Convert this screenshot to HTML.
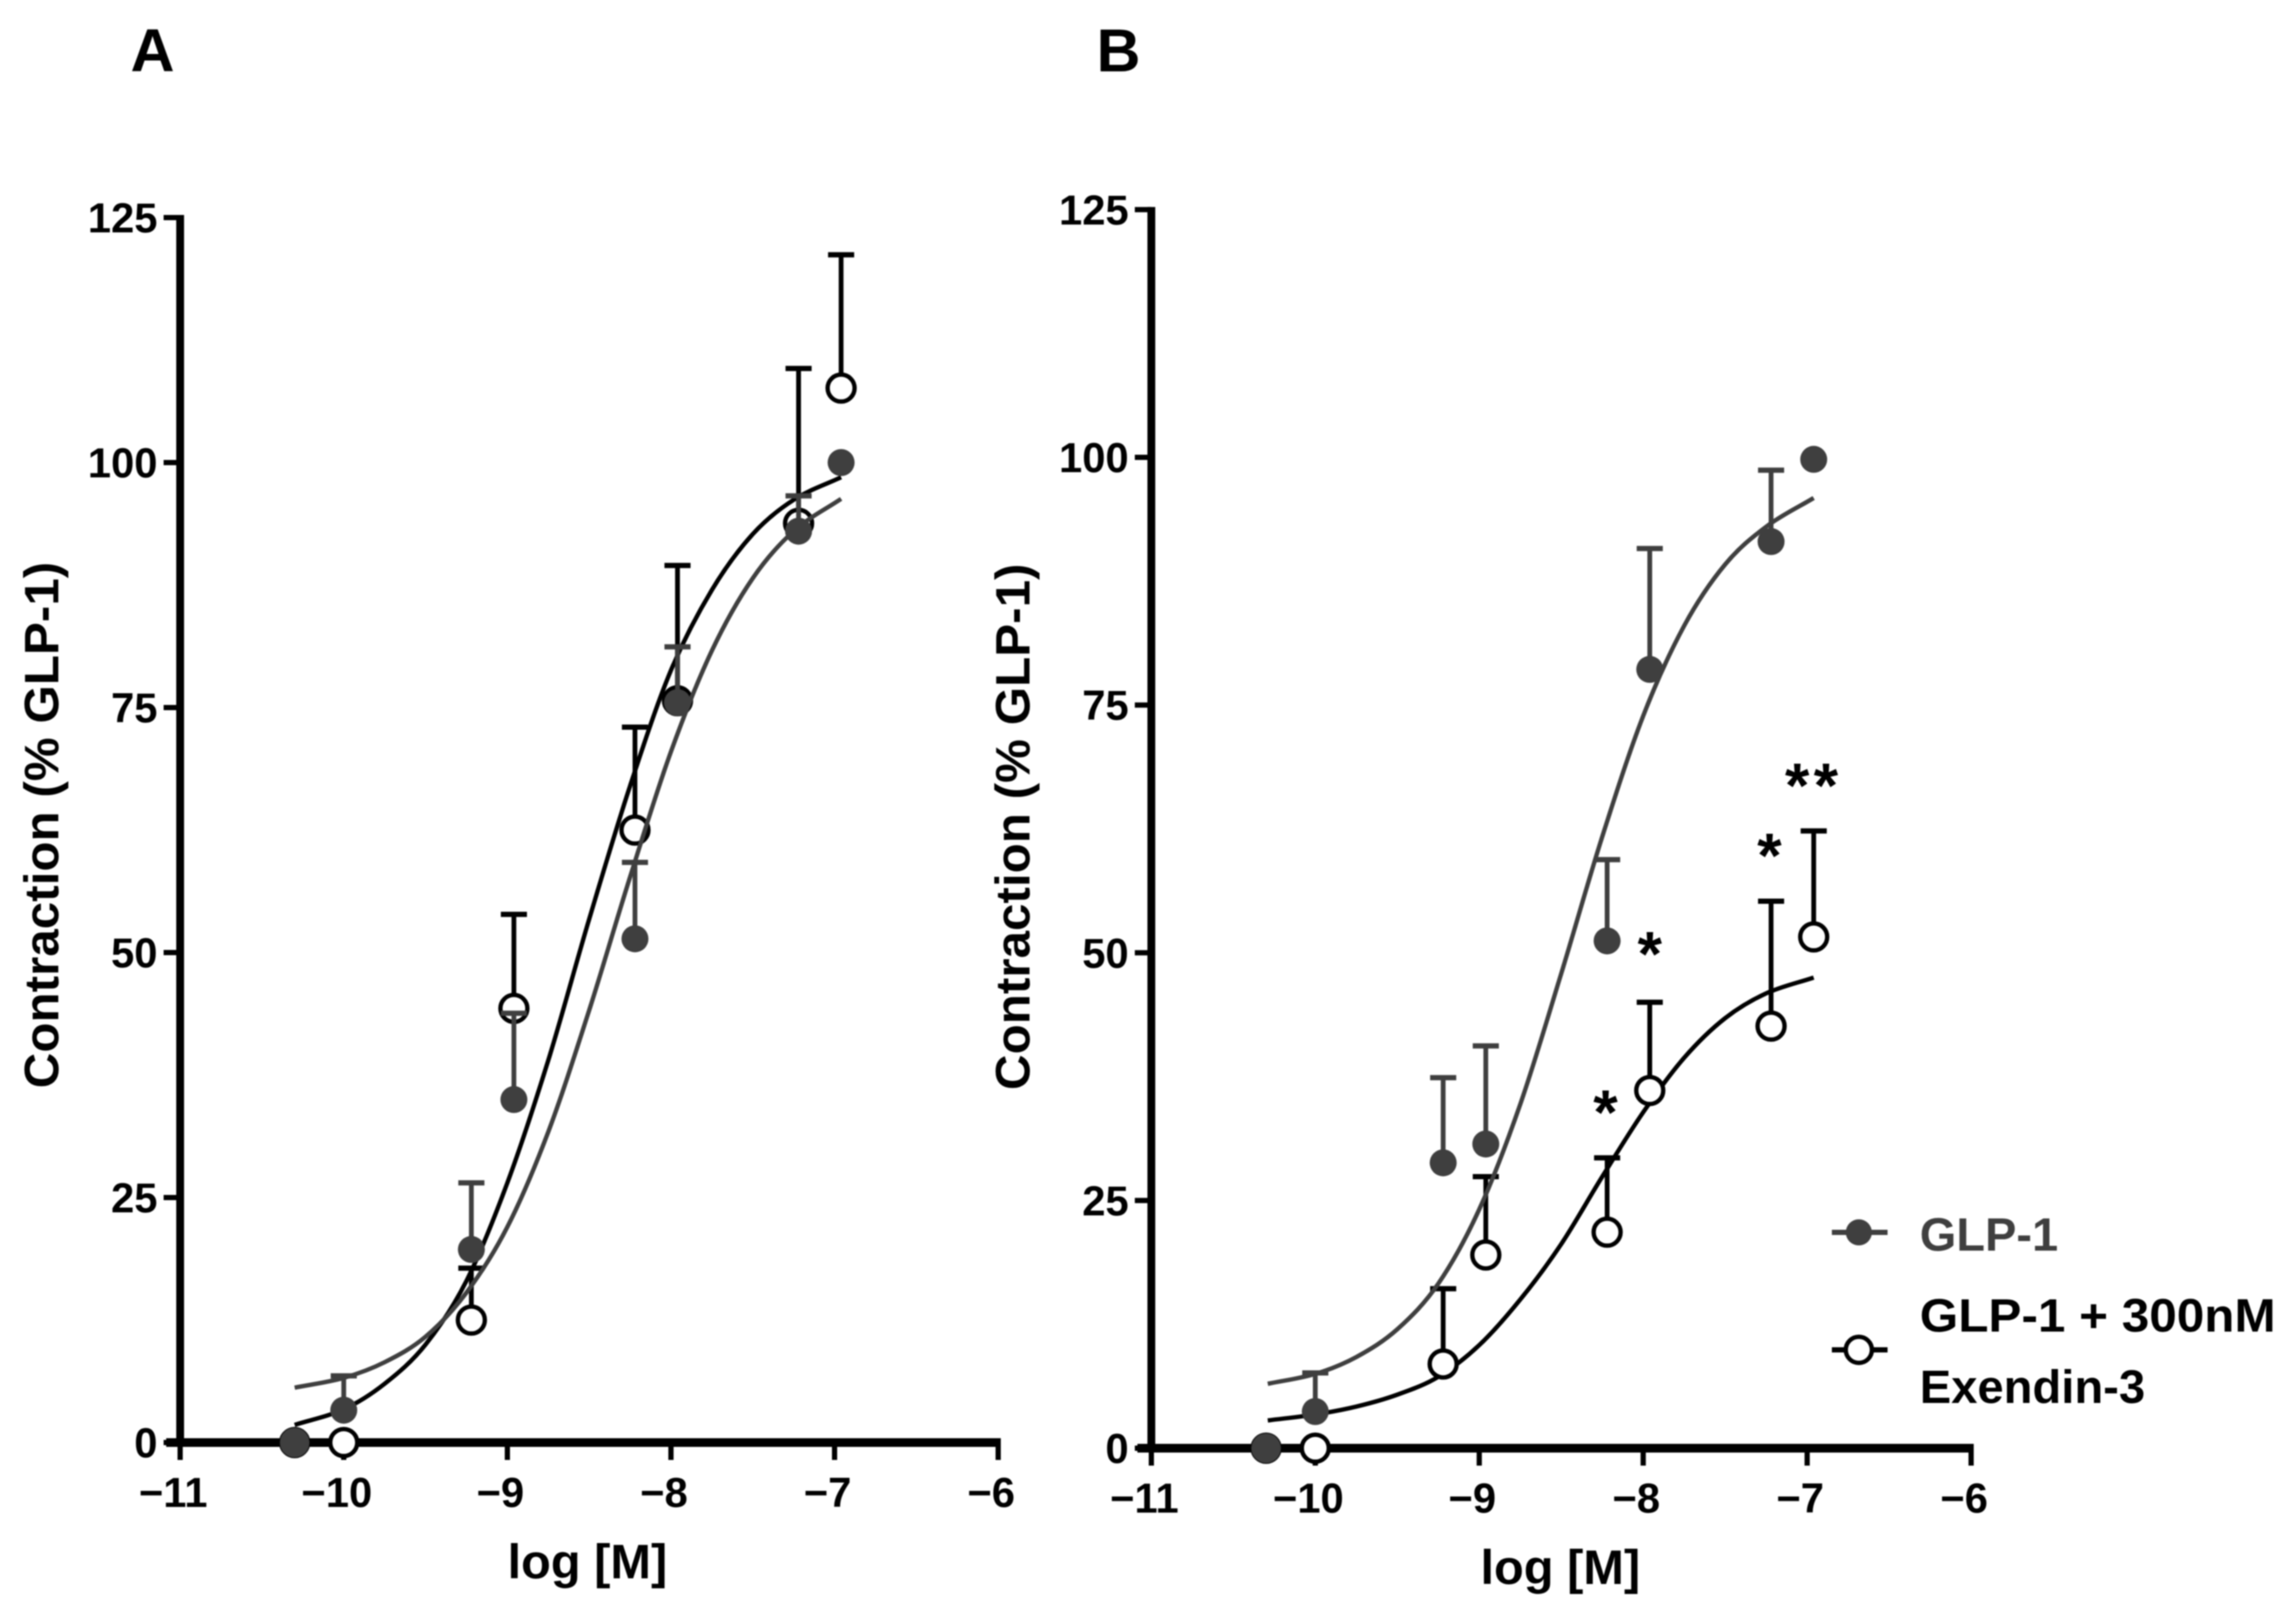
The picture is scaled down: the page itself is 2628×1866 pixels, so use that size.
<!DOCTYPE html>
<html lang="en">
<head>
<meta charset="utf-8">
<title>GLP-1 contraction dose-response curves</title>
<style>
html,body{margin:0;padding:0;background:#fff;}
svg{display:block;font-family:"Liberation Sans",sans-serif;filter:blur(0.7px);}
text{font-weight:bold;}
</style>
</head>
<body>
<svg id="figure" xmlns="http://www.w3.org/2000/svg" width="2628" height="1866" viewBox="0 0 2628 1866"></svg>
<script>
// ---------- shared axis data ----------
const xTickValues = [-11, -10, -9, -8, -7, -6];
const yTickValues = [0, 25, 50, 75, 100, 125];
const concentrations = [-10.3, -10, -9.22, -8.96, -8.22, -7.96, -7.22, -6.96];

// ---------- panel A data ----------
const glpMeanA = [0, 3.3, 19.7, 35, 51.4, 75.5, 93, 100];
const glpUpperA = [null, 6.8, 26.5, 43.8, 59.2, 81.2, 96.6, null];
const exMeanA = [0, 0, 12.5, 44.3, 62.5, 75.7, 93.8, 107.6];
const exUpperA = [null, null, 17.8, 53.9, 73, 89.5, 109.6, 121.2];
const curveXA = [-10.3, -10, -9.75, -9.5, -9.25, -9, -8.75, -8.5, -8.25, -8, -7.75, -7.5, -7.25, -6.96];
const glpCurveA = [5.6, 6.6, 8.2, 10.8, 15.3, 22, 31.7, 44.1, 57.7, 70.5, 80.8, 88.2, 93, 96.3];
const exCurveA = [1.8, 3.4, 6, 10, 16.5, 26.5, 39, 53.4, 67, 78.8, 87, 92.7, 96.2, 98.5];

// ---------- panel B data ----------
const glpMeanB = [0, 3.7, 28.8, 30.7, 51.2, 78.6, 91.5, 99.8];
const glpUpperB = [null, 7.6, 37.4, 40.6, 59.4, 90.8, 98.7, null];
const exMeanB = [0, 0, 8.5, 19.5, 21.8, 36.1, 42.6, 51.6];
const exUpperB = [null, null, 16.1, 27.4, 29.3, 45, 55.2, 62.3];
const curveXB = [-10.29, -10, -9.75, -9.5, -9.25, -9, -8.75, -8.5, -8.25, -8, -7.75, -7.5, -7.25, -6.96];
const glpCurveB = [6.5, 7.5, 9.2, 12, 16.6, 24.1, 34.7, 47.9, 61.7, 73.9, 83, 89.2, 93, 95.9];
const exCurveB = [2.8, 3.4, 4.2, 5.4, 7.2, 10.4, 15, 20.6, 27.4, 33.9, 39.4, 43.4, 45.9, 47.5];

// ---------- significance marks in panel B ----------
const starLabels = ['*', '*', '*', '**'];
const starX = [-8.23, -7.96, -7.23, -6.96];
const starY = [34.6, 50.6, 60.5, 67.6];

const GRAY = '#3f3f3f';
const BLACK = '#000000';
const NS = 'http://www.w3.org/2000/svg';
const svg = document.getElementById('figure');

function mk(parent, tag, attrs, txt) {
  const e = document.createElementNS(NS, tag);
  for (const k in attrs) e.setAttribute(k, attrs[k]);
  if (txt !== undefined) e.textContent = txt;
  parent.appendChild(e);
  return e;
}

// Cubic Hermite through the read points, tangents from neighbouring chords
function smoothPath(px, py) {
  const n = px.length;
  const slope = [];
  for (let i = 0; i < n; i++) {
    const a = Math.max(i - 1, 0), b = Math.min(i + 1, n - 1);
    slope.push((py[b] - py[a]) / (px[b] - px[a]));
  }
  let d = 'M' + px[0].toFixed(1) + ' ' + py[0].toFixed(1);
  for (let i = 0; i < n - 1; i++) {
    const h = (px[i + 1] - px[i]) / 3;
    d += 'C' + (px[i] + h).toFixed(1) + ' ' + (py[i] + slope[i] * h).toFixed(1) + ' ' +
         (px[i + 1] - h).toFixed(1) + ' ' + (py[i + 1] - slope[i + 1] * h).toFixed(1) + ' ' +
         px[i + 1].toFixed(1) + ' ' + py[i + 1].toFixed(1);
  }
  return d;
}

function drawSeries(g, sx, sy, key, color, means, uppers) {
  concentrations.forEach(function (c, i) {
    const x = sx(c);
    if (uppers[i] !== null) {
      const stem = mk(g, 'line', {x1: x, x2: x, y1: sy(means[i]), y2: sy(uppers[i]), stroke: color, 'stroke-width': 5.5});
      
      
      const cap = mk(g, 'line', {x1: x - 15, x2: x + 15, y1: sy(uppers[i]), y2: sy(uppers[i]), stroke: color, 'stroke-width': 6});
      
      
    }
  });
}

function drawMarkers(g, sx, sy, key, color, hollow, means) {
  concentrations.forEach(function (c, i) {
    const large = !hollow && i === 0;
    const dot = mk(g, 'circle', {
      cx: sx(c), cy: sy(means[i]),
      r: hollow ? 15.5 : (large ? 17 : 15.5),
      fill: hollow ? '#fff' : color,
      stroke: hollow ? color : 'none',
      'stroke-width': hollow ? 5 : 0
    });
    
    
  });
}

function drawPanel(cfg) {
  const sx = function (v) { return cfg.x0 + (v + 11) * cfg.xUnit; };
  const sy = function (v) { return cfg.y0 - v * cfg.yUnit; };

  const g = mk(svg, 'g', {});
  
  

  const letter = mk(g, 'text', {x: cfg.letterX, y: 82, 'font-size': 70, fill: '#000'}, cfg.id.toUpperCase());
  
  

  // axes
  const yAxis = mk(g, 'line', {x1: sx(-11), x2: sx(-11), y1: sy(125) - 3, y2: sy(0) + 5, stroke: '#000', 'stroke-width': 9});
  
  
  const xAxis = mk(g, 'line', {x1: sx(-11) - 16, x2: sx(-6) + 3, y1: sy(0), y2: sy(0), stroke: '#000', 'stroke-width': 10});
  
  

  yTickValues.forEach(function (v) {
    const t = mk(g, 'line', {x1: sx(-11) - 19, x2: sx(-11), y1: sy(v), y2: sy(v), stroke: '#000', 'stroke-width': 6});
    
    
    const l = mk(g, 'text', {x: sx(-11) - 26, y: sy(v) + 17, 'font-size': 48, 'text-anchor': 'end', fill: '#000'}, String(v));
    
    
  });

  xTickValues.forEach(function (v) {
    const t = mk(g, 'line', {x1: sx(v), x2: sx(v), y1: sy(0), y2: sy(0) + 20, stroke: '#000', 'stroke-width': 6});
    
    
    const l = mk(g, 'text', {x: sx(v) - 8, y: sy(0) + 74, 'font-size': 48, 'text-anchor': 'middle', fill: '#000'}, '\u2212' + Math.abs(v));
    
    
  });

  const xt = mk(g, 'text', {x: cfg.xTitleX, y: cfg.y0 + 156, 'font-size': 56, 'text-anchor': 'middle', fill: '#000'}, 'log [M]');
  
  

  const yt = mk(g, 'text', {
    transform: 'translate(' + cfg.yTitleX + ' ' + cfg.yTitleY + ') rotate(-90)',
    'font-size': 56, 'text-anchor': 'middle', fill: '#000',
    textLength: 605, lengthAdjust: 'spacingAndGlyphs'
  }, 'Contraction (% GLP-1)');
  
  

  // Exendin-3 series
  drawSeries(g, sx, sy, 'exendin', BLACK, cfg.exMean, cfg.exUpper);
  const exLine = mk(g, 'path', {d: smoothPath(cfg.curveX.map(sx), cfg.exCurve.map(sy)), fill: 'none', stroke: BLACK, 'stroke-width': 5});
  
  
  drawMarkers(g, sx, sy, 'exendin', BLACK, true, cfg.exMean);

  // GLP-1 series
  drawSeries(g, sx, sy, 'glp1', GRAY, cfg.glpMean, cfg.glpUpper);
  const glpLine = mk(g, 'path', {d: smoothPath(cfg.curveX.map(sx), cfg.glpCurve.map(sy)), fill: 'none', stroke: GRAY, 'stroke-width': 5});
  
  
  drawMarkers(g, sx, sy, 'glp1', GRAY, false, cfg.glpMean);

  if (cfg.stars) {
    starLabels.forEach(function (s, i) {
      const st = mk(g, 'text', {x: sx(starX[i]), y: sy(starY[i]) + 33, 'font-size': 72, 'text-anchor': 'middle', 'letter-spacing': s.length > 1 ? 5 : 0, fill: '#000'}, s);
      
      
    });
  }
}

drawPanel({
  id: 'a', x0: 207, xUnit: 188, y0: 1657.5, yUnit: 11.26,
  letterX: 150, xTitleX: 675, yTitleX: 67, yTitleY: 948,
  glpMean: glpMeanA, glpUpper: glpUpperA, exMean: exMeanA, exUpper: exUpperA,
  curveX: curveXA, glpCurve: glpCurveA, exCurve: exCurveA, stars: false
});
drawPanel({
  id: 'b', x0: 1323, xUnit: 188.4, y0: 1664, yUnit: 11.385,
  letterX: 1260, xTitleX: 1793, yTitleX: 1183, yTitleY: 950,
  glpMean: glpMeanB, glpUpper: glpUpperB, exMean: exMeanB, exUpper: exUpperB,
  curveX: curveXB, glpCurve: glpCurveB, exCurve: exCurveB, stars: true
});

// ---------- legend ----------
const legend = mk(svg, 'g', {});



const legendLine1 = mk(legend, 'line', {x1: 2105, x2: 2169, y1: 1416, y2: 1416, stroke: GRAY, 'stroke-width': 6});


const legendDot1 = mk(legend, 'circle', {cx: 2136, cy: 1416, r: 15, fill: GRAY});


const legendText1 = mk(legend, 'text', {x: 2206, y: 1437, 'font-size': 54, fill: GRAY, textLength: 159, lengthAdjust: 'spacingAndGlyphs'}, 'GLP-1');



const legendLine2 = mk(legend, 'line', {x1: 2105, x2: 2169, y1: 1551, y2: 1551, stroke: BLACK, 'stroke-width': 6});


const legendDot2 = mk(legend, 'circle', {cx: 2136, cy: 1551, r: 15, fill: '#fff', stroke: BLACK, 'stroke-width': 5});


const legendText2 = mk(legend, 'text', {x: 2206, y: 1530, 'font-size': 54, fill: '#000', textLength: 409, lengthAdjust: 'spacingAndGlyphs'}, 'GLP-1 + 300nM');


const legendText3 = mk(legend, 'text', {x: 2206, y: 1612, 'font-size': 54, fill: '#000', textLength: 259, lengthAdjust: 'spacingAndGlyphs'}, 'Exendin-3');


</script>
</body>
</html>
